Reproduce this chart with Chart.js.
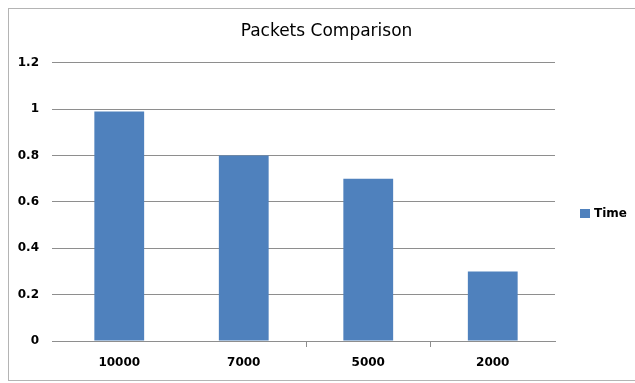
<!DOCTYPE html>
<html>
<head>
<meta charset="utf-8">
<script src="https://cdn.jsdelivr.net/npm/chart.js@4/dist/chart.umd.min.js"></script>
<style>
  html, body { margin: 0; padding: 0; background: #fff; }
  #wrap { position: relative; width: 635px; height: 383px; overflow: hidden; }
  #frame { position: absolute; left: 8px; top: 8px; width: 700px; height: 373px; border: 1px solid #b4b4b4; box-sizing: border-box; }
  canvas { position: absolute; left: 0; top: 0; }
</style>
</head>
<body>
<div id="wrap">
  <div id="frame"></div>
  <canvas id="c" width="635" height="383"></canvas>
</div>
<script>
const chartTitle = "Packets Comparison";
const categories = ["10000", "7000", "5000", "2000"];
const seriesName = "Time";
const timeValues = [0.99, 0.80, 0.70, 0.30];
const yTickLabels = ["0", "0.2", "0.4", "0.6", "0.8", "1", "1.2"];

const barColor = "#4f81bd";
const gridColor = "#8e8e8e";
const tickFont = { family: "DejaVu Sans", size: 12, weight: "bold" };

const customLegend = {
  id: "customLegend",
  afterDraw(chart) {
    const ctx = chart.ctx;
    const ds = chart.data.datasets[0];
    ctx.save();
    ctx.fillStyle = ds.backgroundColor;
    ctx.fillRect(580, 209, 10, 9);
    ctx.fillStyle = "#000";
    ctx.font = "bold 12px 'DejaVu Sans'";
    ctx.textBaseline = "middle";
    ctx.textAlign = "left";
    ctx.fillText(ds.label, 594, 214);
    ctx.restore();
  }
};

new Chart(document.getElementById("c"), {
  type: "bar",
  data: {
    labels: categories,
    datasets: [{
      label: seriesName,
      data: timeValues,
      backgroundColor: barColor,
      borderWidth: 0,
      barPercentage: 0.4,
      categoryPercentage: 1.0
    }]
  },
  options: {
    responsive: false,
    animation: false,
    devicePixelRatio: 1,
    layout: { padding: { left: 18, right: 0, top: 0, bottom: 0 } },
    plugins: {
      legend: { display: false },
      tooltip: { enabled: false },
      title: {
        display: true,
        text: chartTitle,
        color: "#000",
        font: { family: "DejaVu Sans", size: 17, weight: "normal", lineHeight: 1.2 },
        padding: { top: 21.5, bottom: 20.8 }
      }
    },
    scales: {
      x: {
        offset: true,
        grid: {
          display: true,
          drawOnChartArea: false,
          drawTicks: true,
          tickLength: 6,
          offset: true,
          color: (c) => (c.index >= 2 ? gridColor : "rgba(0,0,0,0)")
        },
        border: { display: true, color: gridColor, width: 1 },
        ticks: { color: "#000", font: tickFont, padding: 9, maxRotation: 0 },
        afterFit(scale) { scale.height = 42; }
      },
      y: {
        min: 0,
        max: 1.2,
        ticks: {
          stepSize: 0.2,
          color: "#000",
          font: tickFont,
          padding: 13,
          callback: (v, i) => yTickLabels[i]
        },
        grid: { color: gridColor, lineWidth: 1, drawTicks: true, tickLength: 5 },
        border: { display: false },
        afterFit(scale) { scale.width = 39; }
      },
      legendSpace: {
        type: "linear",
        position: "right",
        display: true,
        grid: { display: false, drawTicks: false },
        border: { display: false },
        ticks: { display: false },
        afterFit(scale) { scale.width = 80; }
      }
    }
  },
  plugins: [customLegend]
});
</script>
</body>
</html>
